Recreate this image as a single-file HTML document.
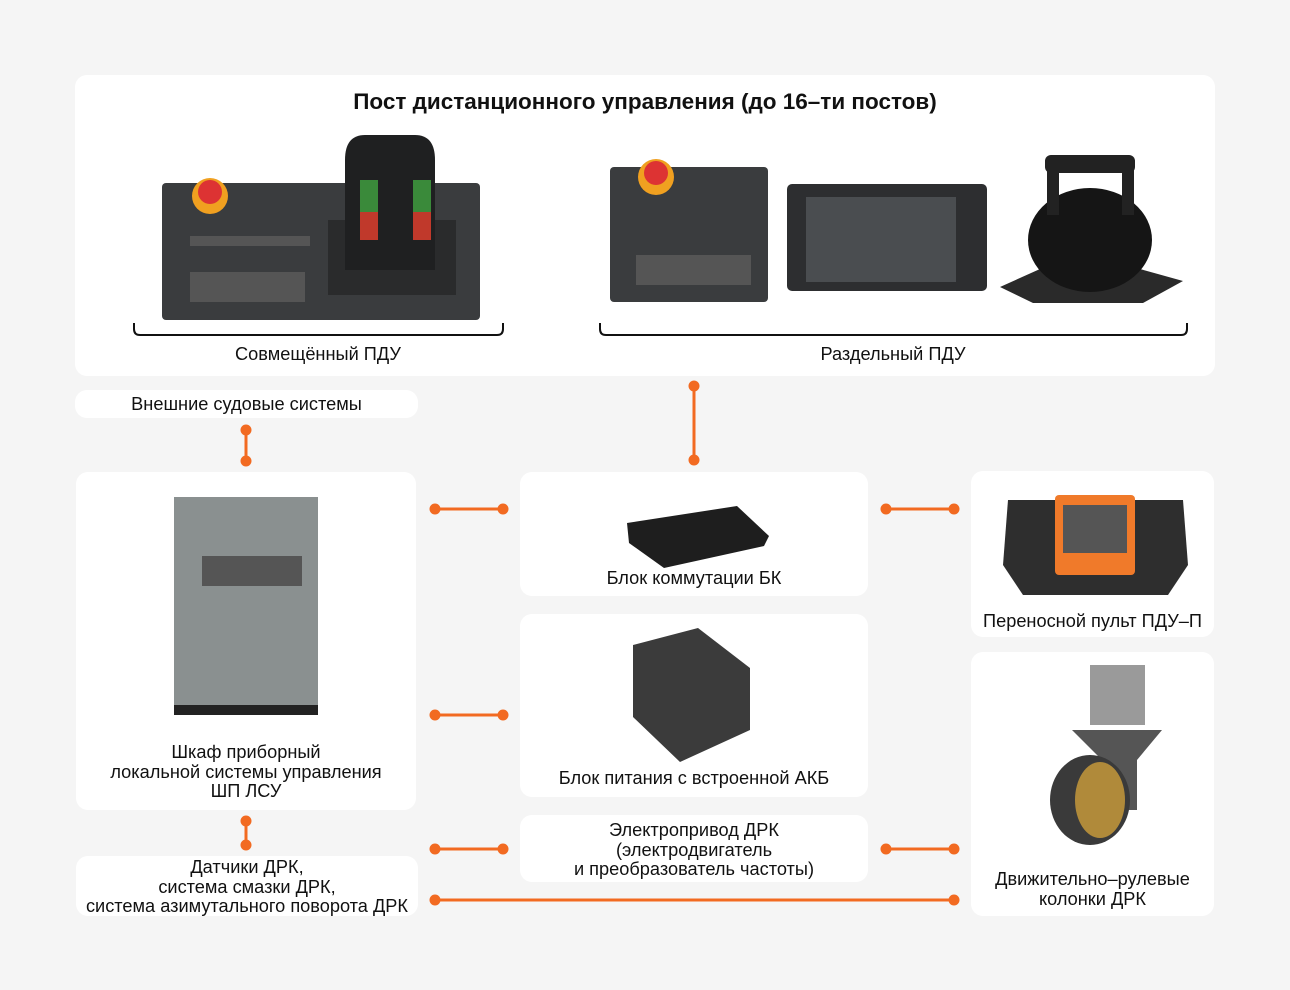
<!DOCTYPE html>
<html><head><meta charset="utf-8"><style>
*{margin:0;padding:0;box-sizing:border-box}
body{width:1290px;height:990px;background:#f5f5f5;position:relative;overflow:hidden;font-family:"Liberation Sans",sans-serif;color:#111}
.b{position:absolute;background:#fff;border-radius:12px}
.t{position:absolute;text-align:center;font-size:18.2px;line-height:19.5px;width:100%;white-space:nowrap}
svg{position:absolute;left:0;top:0}
</style></head><body>
<div class="b" style="left:75px;top:75px;width:1140px;height:301px"></div>
<div class="t" style="left:0;top:89px;font-weight:bold;font-size:22.5px;line-height:26px;width:1290px">Пост дистанционного управления (до 16–ти постов)</div>
<div class="t" style="left:133px;top:345px;width:370px">Совмещённый ПДУ</div>
<div class="t" style="left:599px;top:345px;width:588px">Раздельный ПДУ</div>

<div class="b" style="left:75px;top:390px;width:343px;height:28px"><div class="t" style="top:5px">Внешние судовые системы</div></div>
<div class="b" style="left:76px;top:472px;width:340px;height:338px"><div class="t" style="top:271px">Шкаф приборный<br>локальной системы управления<br>ШП ЛСУ</div></div>
<div class="b" style="left:76px;top:856px;width:342px;height:60px"><div class="t" style="top:2px">Датчики ДРК,<br>система смазки ДРК,<br>система азимутального поворота ДРК</div></div>
<div class="b" style="left:520px;top:472px;width:348px;height:124px"><div class="t" style="top:97px">Блок коммутации БК</div></div>
<div class="b" style="left:520px;top:614px;width:348px;height:183px"><div class="t" style="top:155px">Блок питания с встроенной АКБ</div></div>
<div class="b" style="left:520px;top:815px;width:348px;height:67px"><div class="t" style="top:6px">Электропривод ДРК<br>(электродвигатель<br>и преобразователь частоты)</div></div>
<div class="b" style="left:971px;top:471px;width:243px;height:166px"><div class="t" style="top:141px">Переносной пульт ПДУ–П</div></div>
<div class="b" style="left:971px;top:652px;width:243px;height:264px"><div class="t" style="top:218px">Движительно–рулевые<br>колонки ДРК</div></div>

<svg width="1290" height="990">
<g fill="none" stroke="#111" stroke-width="2">
<path d="M134 323v6q0 6 6 6h357q6 0 6-6v-6"/>
<path d="M600 323v6q0 6 6 6h575q6 0 6-6v-6"/>
</g>
<g stroke="#f26a21" stroke-width="3" fill="#f26a21">
<line x1="246" y1="430" x2="246" y2="461"/><circle cx="246" cy="430" r="4"/><circle cx="246" cy="461" r="4"/>
<line x1="694" y1="386" x2="694" y2="460"/><circle cx="694" cy="386" r="4"/><circle cx="694" cy="460" r="4"/>
<line x1="246" y1="821" x2="246" y2="845"/><circle cx="246" cy="821" r="4"/><circle cx="246" cy="845" r="4"/>
<line x1="435" y1="509" x2="503" y2="509"/><circle cx="435" cy="509" r="4"/><circle cx="503" cy="509" r="4"/>
<line x1="435" y1="715" x2="503" y2="715"/><circle cx="435" cy="715" r="4"/><circle cx="503" cy="715" r="4"/>
<line x1="435" y1="849" x2="503" y2="849"/><circle cx="435" cy="849" r="4"/><circle cx="503" cy="849" r="4"/>
<line x1="886" y1="509" x2="954" y2="509"/><circle cx="886" cy="509" r="4"/><circle cx="954" cy="509" r="4"/>
<line x1="886" y1="849" x2="954" y2="849"/><circle cx="886" cy="849" r="4"/><circle cx="954" cy="849" r="4"/>
<line x1="435" y1="900" x2="954" y2="900"/><circle cx="435" cy="900" r="4"/><circle cx="954" cy="900" r="4"/>
</g>
<rect x="162" y="183" width="318" height="137" rx="4" fill="#3a3c3e"/>
<rect x="328" y="220" width="128" height="75" fill="#2a2b2c"/>
<path d="M345 160q0-25 20-25h50q20 0 20 25v110h-90z" fill="#1f2021"/>
<rect x="360" y="180" width="18" height="60" fill="#3a8a3a"/><rect x="413" y="180" width="18" height="60" fill="#3a8a3a"/>
<rect x="360" y="212" width="18" height="28" fill="#c0392b"/><rect x="413" y="212" width="18" height="28" fill="#c0392b"/>
<circle cx="210" cy="196" r="18" fill="#f0a020"/><circle cx="210" cy="192" r="12" fill="#d33"/>
<g fill="#555"><rect x="190" y="236" width="120" height="10"/><rect x="190" y="272" width="115" height="30"/></g>
<rect x="610" y="167" width="158" height="135" rx="4" fill="#3a3c3e"/>
<circle cx="656" cy="177" r="18" fill="#f0a020"/><circle cx="656" cy="173" r="12" fill="#d33"/>
<rect x="636" y="255" width="115" height="30" fill="#555"/>
<rect x="787" y="184" width="200" height="107" rx="5" fill="#2d2e30"/>
<rect x="806" y="197" width="150" height="85" fill="#4a4d50"/>
<path d="M1000 287l40-18h100l43 12-40 22h-110z" fill="#2a2a2a"/>
<ellipse cx="1090" cy="240" rx="62" ry="52" fill="#151515"/>
<rect x="1045" y="155" width="90" height="18" rx="6" fill="#222"/>
<rect x="1047" y="170" width="12" height="45" fill="#222"/><rect x="1122" y="170" width="12" height="45" fill="#222"/>
<rect x="174" y="497" width="144" height="210" fill="#8a9090"/>
<rect x="202" y="556" width="100" height="30" fill="#555"/>
<rect x="174" y="705" width="144" height="10" fill="#222"/>
<path d="M627 523l110-17 32 30-5 10-100 22-35-25z" fill="#1e1e1e"/>
<path d="M633 645l65-17 52 40v62l-70 32-47-45z" fill="#3b3b3b"/>
<path d="M1008 500h175l5 65-20 30h-145l-20-30z" fill="#2e2e2e"/>
<rect x="1055" y="495" width="80" height="80" rx="4" fill="#f07a2a"/>
<rect x="1063" y="505" width="64" height="48" fill="#555"/>
<rect x="1090" y="665" width="55" height="60" fill="#9a9a9a"/>
<path d="M1072 730h90l-25 30v50h-35v-50z" fill="#555"/>
<ellipse cx="1090" cy="800" rx="40" ry="45" fill="#3a3a3a"/><ellipse cx="1100" cy="800" rx="25" ry="38" fill="#b08a3a"/>
</svg>
</body></html>
